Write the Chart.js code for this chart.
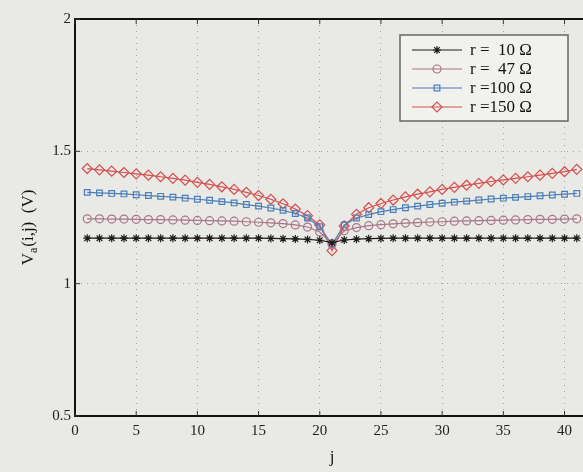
<!DOCTYPE html>
<html>
<head>
<meta charset="utf-8">
<script src="https://cdn.jsdelivr.net/npm/chart.js@4/dist/chart.umd.min.js"></script>
<style>
  html, body { margin: 0; padding: 0; background: #e9e9e5; overflow: hidden; }
  #wrap { width: 600px; height: 472px; }
</style>
</head>
<body>
<div id="wrap"><canvas id="graph" width="600" height="472"></canvas></div>
<script>
"use strict";

const jValues = [1, 2, 3, 4, 5, 6, 7, 8, 9, 10, 11, 12, 13, 14, 15, 16, 17, 18, 19, 20,
  21, 22, 23, 24, 25, 26, 27, 28, 29, 30, 31, 32, 33, 34, 35, 36, 37, 38, 39, 40, 41];

const r10 = [1.172, 1.172, 1.172, 1.172, 1.172, 1.172, 1.172, 1.172, 1.172, 1.172,
  1.172, 1.172, 1.172, 1.172, 1.172, 1.171, 1.170, 1.169, 1.167, 1.164,
  1.155,
  1.165, 1.168, 1.170, 1.171, 1.172, 1.172, 1.172, 1.172, 1.172, 1.172,
  1.172, 1.172, 1.172, 1.172, 1.172, 1.172, 1.172, 1.172, 1.172, 1.172];

const r47 = [1.245, 1.245, 1.244, 1.244, 1.243, 1.242, 1.242, 1.241, 1.240, 1.239,
  1.238, 1.237, 1.236, 1.234, 1.232, 1.230, 1.227, 1.222, 1.214, 1.195,
  1.150,
  1.200, 1.212, 1.219, 1.223, 1.226, 1.229, 1.231, 1.233, 1.234, 1.236,
  1.237, 1.238, 1.239, 1.240, 1.241, 1.242, 1.243, 1.243, 1.244, 1.245];

const r100 = [1.345, 1.343, 1.341, 1.339, 1.336, 1.333, 1.330, 1.327, 1.323, 1.319,
  1.315, 1.310, 1.305, 1.299, 1.293, 1.286, 1.277, 1.265, 1.248, 1.215,
  1.148,
  1.222, 1.248, 1.261, 1.272, 1.280, 1.287, 1.293, 1.299, 1.304, 1.308,
  1.312, 1.316, 1.320, 1.323, 1.326, 1.329, 1.332, 1.335, 1.338, 1.341];

const r150 = [1.435, 1.430, 1.425, 1.420, 1.415, 1.410, 1.404, 1.398, 1.391, 1.383,
  1.375, 1.366, 1.356, 1.345, 1.333, 1.319, 1.302, 1.282, 1.257, 1.222,
  1.125,
  1.218, 1.262, 1.287, 1.303, 1.316, 1.328, 1.338, 1.347, 1.356, 1.364,
  1.372, 1.379, 1.386, 1.392, 1.398, 1.404, 1.410, 1.417, 1.423, 1.432];

const seriesLabels = ["r =  10 Ω", "r =  47 Ω", "r =100 Ω", "r =150 Ω"];
const xTicks = [0, 5, 10, 15, 20, 25, 30, 35, 40];
const yTicks = [0.5, 1, 1.5, 2];

const serif = "'Liberation Serif', 'DejaVu Serif', serif";

function makeSet(label, values, color, style, radius) {
  return {
    label: label,
    data: jValues.map((j, i) => ({ x: j, y: values[i] })),
    borderColor: color,
    backgroundColor: "transparent",
    pointBorderColor: color,
    pointBackgroundColor: "transparent",
    pointStyle: style,
    pointRadius: radius,
    pointBorderWidth: 1.2,
    borderWidth: 1.2,
    tension: 0,
  };
}

// matlab style box, inward ticks, y title with subscript and legend
const boxPlugin = {
  id: "box",
  afterDatasetsDraw(chart) {
    const { ctx, chartArea: a, scales } = chart;
    ctx.save();
    ctx.strokeStyle = "#111";
    ctx.lineWidth = 2;
    ctx.beginPath();
    ctx.moveTo(a.right, a.top);
    ctx.lineTo(a.left, a.top);
    ctx.lineTo(a.left, a.bottom);
    ctx.lineTo(a.right, a.bottom);
    ctx.stroke();

    ctx.lineWidth = 1;
    ctx.strokeStyle = "#333";
    xTicks.forEach((t) => {
      const px = scales.x.getPixelForValue(t);
      ctx.beginPath();
      ctx.moveTo(px, a.bottom);
      ctx.lineTo(px, a.bottom - 5);
      ctx.moveTo(px, a.top);
      ctx.lineTo(px, a.top + 5);
      ctx.stroke();
    });
    yTicks.forEach((t) => {
      const py = scales.y.getPixelForValue(t);
      ctx.beginPath();
      ctx.moveTo(a.left, py);
      ctx.lineTo(a.left + 5, py);
      ctx.stroke();
    });

    // y axis title: V_a(i,j)  (V)
    ctx.save();
    ctx.translate(33, 228);
    ctx.rotate(-Math.PI / 2);
    ctx.fillStyle = "#111";
    ctx.textBaseline = "alphabetic";
    const big = "17px " + serif, small = "12px " + serif;
    ctx.font = big;
    const w1 = ctx.measureText("V").width;
    const rest = "(i,j)  (V)";
    const w3 = ctx.measureText(rest).width;
    ctx.font = small;
    const w2 = ctx.measureText("a").width;
    let x0 = -(w1 + w2 + w3) / 2;
    ctx.font = big;
    ctx.fillText("V", x0, 0);
    ctx.font = small;
    ctx.fillText("a", x0 + w1, 4);
    ctx.font = big;
    ctx.fillText(rest, x0 + w1 + w2 + 1, 0);
    ctx.restore();

    // legend
    const bx = 400, by = 35, bw = 168, bh = 86;
    ctx.fillStyle = "#f1f1ee";
    ctx.fillRect(bx, by, bw, bh);
    ctx.strokeStyle = "#666";
    ctx.lineWidth = 1.5;
    ctx.strokeRect(bx, by, bw, bh);
    ctx.font = "17px " + serif;
    ctx.textBaseline = "middle";
    chart.data.datasets.forEach((ds, i) => {
      const y = by + 15 + i * 19;
      ctx.strokeStyle = ds.borderColor;
      ctx.lineWidth = 1.2;
      ctx.beginPath();
      ctx.moveTo(bx + 12, y);
      ctx.lineTo(bx + 62, y);
      ctx.stroke();
      ctx.fillStyle = "rgba(0,0,0,0)";
      Chart.helpers.drawPoint(ctx, {
        pointStyle: ds.pointStyle,
        radius: ds.pointRadius,
        rotation: 0,
        borderWidth: 1.2,
      }, bx + 37, y);
      ctx.fillStyle = "#111";
      ctx.fillText(ds.label, bx + 70, y + 1);
    });
    ctx.restore();
  },
};

document.addEventListener("DOMContentLoaded", () => {
  const ctx = document.getElementById("graph").getContext("2d");
  new Chart(ctx, {
    type: "line",
    data: {
      datasets: [
        makeSet(seriesLabels[0], r10, "#1c1c1c", "star", 4),
        makeSet(seriesLabels[1], r47, "#a9758a", "circle", 4),
        makeSet(seriesLabels[2], r100, "#4a7fb8", "rect", 4),
        makeSet(seriesLabels[3], r150, "#d4504f", "rectRot", 5),
      ],
    },
    plugins: [boxPlugin],
    options: {
      responsive: false,
      animation: false,
      layout: { padding: { top: 19, right: 11, left: 0, bottom: 0 } },
      plugins: {
        legend: { display: false },
        tooltip: { enabled: false },
      },
      scales: {
        x: {
          type: "linear",
          min: 0,
          max: 42,
          afterBuildTicks: (s) => { s.ticks = xTicks.map((v) => ({ value: v })); },
          afterFit: (s) => { s.height = 56; },
          grid: { color: "#a3a3a3", lineWidth: 1, drawTicks: false },
          border: { display: false, dash: [1, 5] },
          ticks: {
            color: "#222",
            padding: 6,
            font: { family: serif, size: 15 },
          },
          title: {
            display: true,
            text: "j",
            color: "#111",
            padding: { top: 12 },
            font: { family: serif, size: 17 },
          },
        },
        y: {
          min: 0.5,
          max: 2,
          afterBuildTicks: (s) => { s.ticks = yTicks.map((v) => ({ value: v })); },
          afterFit: (s) => { s.width = 75; },
          grid: { color: "#a3a3a3", lineWidth: 1, drawTicks: false },
          border: { display: false, dash: [1, 5] },
          ticks: {
            color: "#222",
            padding: 4,
            font: { family: serif, size: 15 },
            callback: (v) => String(v),
          },
          title: { display: false },
        },
      },
    },
  });
});
</script>
</body>
</html>
